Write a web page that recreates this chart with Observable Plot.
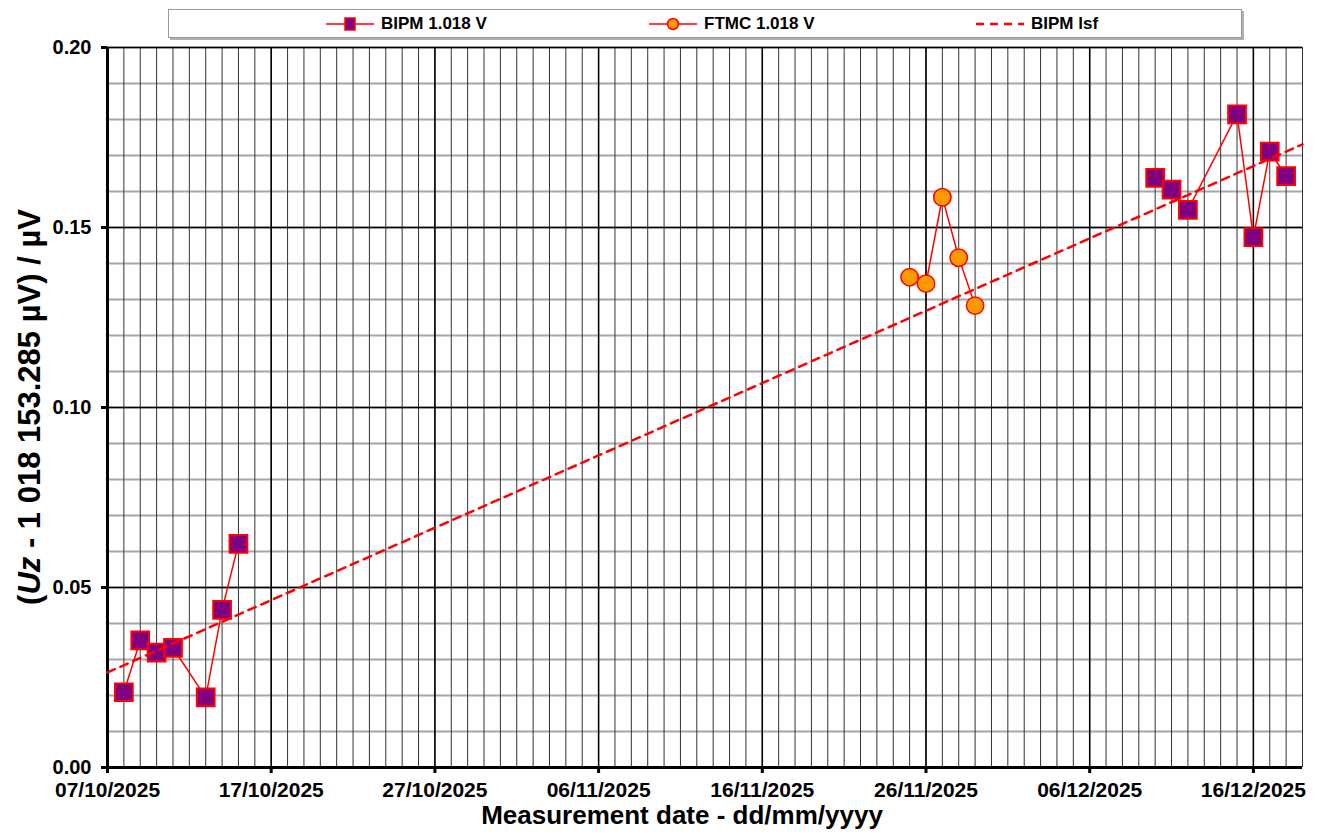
<!DOCTYPE html>
<html><head><meta charset="utf-8">
<script src="https://cdn.jsdelivr.net/npm/d3@7"></script>
<script src="https://cdn.jsdelivr.net/npm/@observablehq/plot@0.6"></script>
<style>
body{margin:0;background:#fff;font-family:"Liberation Sans",Arial,sans-serif;}
#wrap{width:1322px;}
#legend{position:relative;height:40px;}
#legbox{position:absolute;left:168px;top:9px;width:1072px;height:27px;border:1px solid #9a9a9a;box-shadow:2px 2px 0 #b0b0b0;background:#fff;}
.item{position:absolute;top:0;height:27px;display:flex;align-items:center;font-weight:bold;font-size:17px;color:#000;}
.item svg{margin-right:7px;}
</style></head><body>
<div id="wrap"><div id="legend"><div id="legbox"></div></div><div id="chart"></div></div>
<script>
// ---- data ----
const bipmDates = ["2025-10-08","2025-10-09","2025-10-10","2025-10-11","2025-10-13","2025-10-14","2025-10-15",
                   "2025-12-10","2025-12-11","2025-12-12","2025-12-15","2025-12-16","2025-12-17","2025-12-18"];
const bipmValues = [0.0209,0.0353,0.0319,0.0332,0.0195,0.0438,0.0621,
                    0.1638,0.1605,0.1549,0.1814,0.1473,0.1711,0.1643];
const bipmRuns = [1,1,1,1,1,1,1,2,2,2,2,2,2,2];
const ftmcDates = ["2025-11-25","2025-11-26","2025-11-27","2025-11-28","2025-11-29"];
const ftmcValues = [0.1362,0.1344,0.1584,0.1416,0.1283];
const lsfDates = ["2025-10-07","2025-12-19"];
const lsfValues = [0.0264,0.1731];
const xTickDates = ["2025-10-07","2025-10-17","2025-10-27","2025-11-06","2025-11-16","2025-11-26","2025-12-06","2025-12-16"];
const yTicks = [0,0.05,0.10,0.15,0.20];
const seriesNames = ["BIPM 1.018 V","FTMC 1.018 V","BIPM lsf"];

// ---- build ----
const parse = d3.utcParse("%Y-%m-%d");
const bipm = bipmDates.map((d,i)=>({date:parse(d), value:bipmValues[i], run:bipmRuns[i]}));
const ftmc = ftmcDates.map((d,i)=>({date:parse(d), value:ftmcValues[i]}));
const lsf = lsfDates.map((d,i)=>({date:parse(d), value:lsfValues[i]}));
const xDomain = [parse("2025-10-07"), parse("2025-12-19")];
const majorX = xTickDates.map(parse);
const minorX = d3.utcDay.range(xDomain[0], d3.utcDay.offset(xDomain[1],1));
const minorY = d3.range(0,21).map(i=>i/100);

const RED = "#ff0000";
const chart = Plot.plot({
  width:1322, height:794, marginTop:7, marginRight:20, marginBottom:67, marginLeft:107,
  style:{fontFamily:"'Liberation Sans', Arial, sans-serif", fontWeight:"bold", fontSize:"20px", color:"#000", background:"#fff", overflow:"visible"},
  x:{type:"utc", domain:xDomain},
  y:{domain:[0,0.2]},
  marks:[
    Plot.ruleY(minorY, {stroke:"#a6a6a6", strokeWidth:2}),
    Plot.ruleX(minorX, {stroke:"#333", strokeWidth:1}),
    Plot.ruleY(yTicks, {stroke:"#000", strokeWidth:1.5}),
    Plot.ruleX(majorX, {stroke:"#000", strokeWidth:1.5}),
    Plot.ruleX([xDomain[0]], {stroke:"#000", strokeWidth:3}),
    Plot.ruleY([0], {stroke:"#000", strokeWidth:3}),
    Plot.axisX({ticks:majorX, tickFormat:d3.utcFormat("%d/%m/%Y"), tickSize:6, strokeWidth:3, tickPadding:9, fontSize:21, fontWeight:"bold", label:null}),
    Plot.axisY({ticks:yTicks, tickFormat:d3.format(".2f"), tickSize:6, strokeWidth:3, tickPadding:10, fontSize:20, fontWeight:"bold", label:null}),
    Plot.line(bipm, {x:"date", y:"value", z:"run", stroke:RED, strokeWidth:1.5}),
    Plot.line(ftmc, {x:"date", y:"value", stroke:RED, strokeWidth:1.5}),
    Plot.dot(bipm, {x:"date", y:"value", symbol:"square", r:10, fill:"#800080", stroke:RED, strokeWidth:2}),
    Plot.dot(ftmc, {x:"date", y:"value", symbol:"circle", r:8.7, fill:"#ff9900", stroke:RED, strokeWidth:1.5}),
    Plot.line(lsf, {x:"date", y:"value", stroke:RED, strokeWidth:2.5, strokeDasharray:"8,6"}),
    Plot.text(["Measurement date - dd/mm/yyyy"], {frameAnchor:"bottom", dx:-23, dy:38, lineAnchor:"top", fontSize:26, fontWeight:"bold", fill:"#000"})
  ]
});
document.getElementById("chart").appendChild(chart);

// y-axis label with italic Uz
const yl = d3.select(chart).append("text")
  .attr("transform","translate(40,367) rotate(-90)")
  .attr("text-anchor","middle")
  .attr("font-size",31).attr("font-weight","bold").attr("fill","#000");
yl.append("tspan").text("(");
yl.append("tspan").attr("font-style","italic").text("Uz");
yl.append("tspan").text(" - 1 018 153.285 µV) / µV");

// legend
const leg = document.getElementById("legbox");
const lefts = [157,480,807];
seriesNames.forEach((name,i)=>{
  const it = document.createElement("div");
  it.className = "item"; it.style.left = lefts[i]+"px";
  let sym = "";
  if(i===0) sym = `<svg width="48" height="20"><line x1="0" y1="10" x2="48" y2="10" stroke="${RED}" stroke-width="1.5"/><rect x="19" y="4" width="10" height="12" fill="#800080" stroke="${RED}" stroke-width="1.5"/></svg>`;
  if(i===1) sym = `<svg width="48" height="20"><line x1="0" y1="10" x2="48" y2="10" stroke="${RED}" stroke-width="1.5"/><circle cx="24" cy="10" r="5.5" fill="#ff9900" stroke="${RED}" stroke-width="1.5"/></svg>`;
  if(i===2) sym = `<svg width="48" height="20"><line x1="0" y1="10" x2="48" y2="10" stroke="${RED}" stroke-width="2.5" stroke-dasharray="8,6"/></svg>`;
  it.innerHTML = sym + `<span>${name}</span>`;
  leg.appendChild(it);
});
</script>
</body></html>
